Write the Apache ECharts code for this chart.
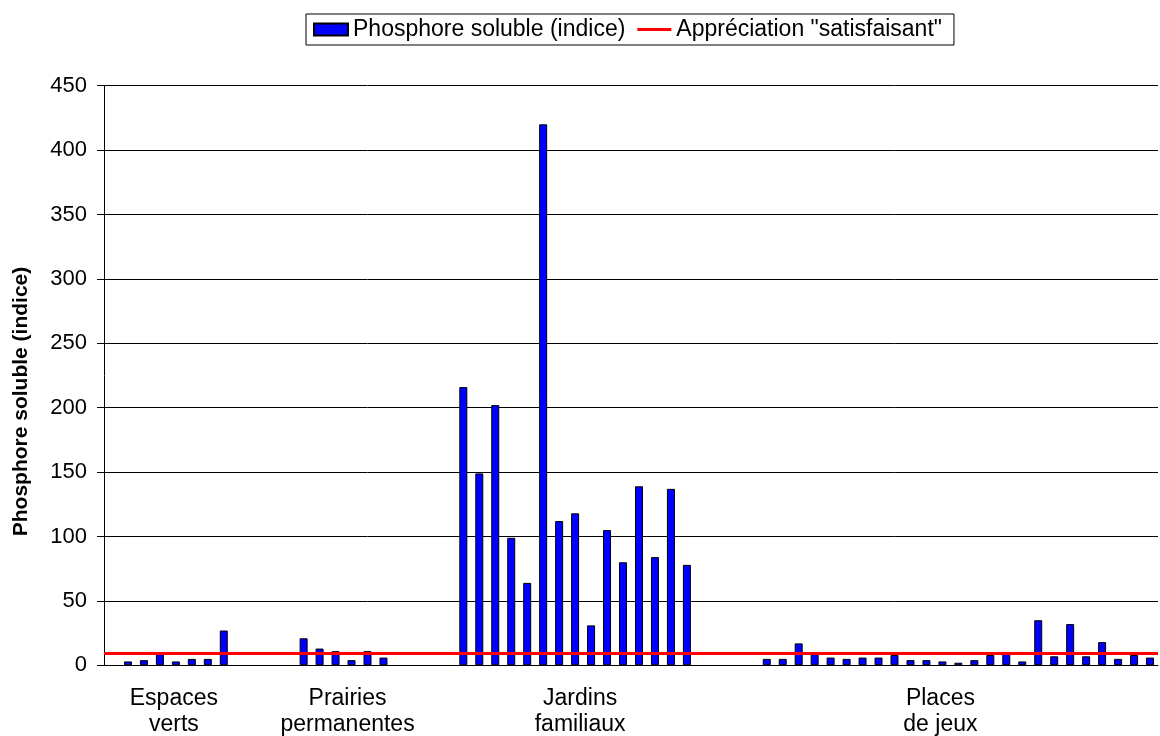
<!DOCTYPE html>
<html>
<head>
<meta charset="utf-8">
<script src="https://cdn.jsdelivr.net/npm/echarts@6/dist/echarts.min.js"></script>
<style>html,body{margin:0;padding:0;background:#fff}#c{width:1160px;height:736px}</style>
</head>
<body>
<div id="c"></div>
<script>
// ---- data ----
const groupLabels = ['Espaces\nverts', 'Prairies\npermanentes', 'Jardins\nfamiliaux', 'Places\nde jeux'];
const espacesVerts = [3, 4, 9, 3, 5, 5, 27];
const prairiesPermanentes = [21, 13, 11, 4, 11, 6];
const jardinsFamiliaux = [216, 149, 202, 99, 64, 420, 112, 118, 31, 105, 80, 139, 84, 137, 78];
const placesDeJeux = [5, 5, 17, 10, 6, 5, 6, 6, 8, 4, 4, 3, 2, 4, 8, 10, 3, 35, 7, 32, 7, 18, 5, 8, 6];
const emptySlotsBefore = [1, 4, 4, 4];      // empty category slots before each group
const labelSlotInGroup = [3, 3, 7, 11];     // which slot of each group carries the label
const labelPadding = [[0, 4, 0, 0], [0, 8, 0, 0], [0, 0, 0, 10], [0, 4, 0, 0]];
const seuilSatisfaisant = 9;
const yTicks = { min: 0, max: 450, interval: 50 };
const seriesNames = ['Phosphore soluble (indice)', 'Appréciation "satisfaisant"'];
const yAxisTitle = 'Phosphore soluble (indice)';

// ---- build category slots ----
const groups = [espacesVerts, prairiesPermanentes, jardinsFamiliaux, placesDeJeux];
const categories = [];
const values = [];
const labelAt = {};
groups.forEach((g, gi) => {
  for (let i = 0; i < emptySlotsBefore[gi]; i++) { categories.push({ value: 'e' + categories.length }); values.push(null); }
  g.forEach((v, i) => {
    const item = { value: 's' + categories.length };
    if (i === labelSlotInGroup[gi]) {
      labelAt[categories.length] = groupLabels[gi];
      item.textStyle = { padding: labelPadding[gi] };
    }
    categories.push(item);
    values.push(v);
  });
});

const FONT = 'Liberation Sans, Arial, sans-serif';
const chart = echarts.init(document.getElementById('c'), null, { renderer: 'canvas' });
chart.setOption({
  animation: false,
  backgroundColor: '#fff',
  textStyle: { fontFamily: FONT, color: '#000' },
  legend: {
    left: 306, top: 14,
    padding: [4, 12, 4, 7],
    itemGap: 12,
    itemWidth: 34, itemHeight: 12,
    borderColor: '#000', borderWidth: 1,
    textStyle: { fontFamily: FONT, fontSize: 23, color: '#000' },
    data: [
      { name: seriesNames[0], icon: 'rect' },
      { name: seriesNames[1], icon: 'path://M0,0h34v3h-34z' }
    ]
  },
  grid: { left: 104, right: 2, top: 85.7, bottom: 70.7, containLabel: false, outerBoundsMode: 'none' },
  xAxis: {
    type: 'category',
    data: categories,
    axisLine: { lineStyle: { color: '#000', width: 1 } },
    axisTick: { show: false },
    axisLabel: {
      interval: 0, margin: 20,
      fontFamily: FONT, fontSize: 23, color: '#000', lineHeight: 26,
      formatter: (v, idx) => labelAt[idx] || ''
    },
    splitLine: { show: false }
  },
  yAxis: {
    type: 'value',
    min: yTicks.min, max: yTicks.max, interval: yTicks.interval,
    name: yAxisTitle, nameLocation: 'middle', nameGap: 72, nameRotate: 90,
    nameTextStyle: { fontFamily: FONT, fontSize: 21, fontWeight: 'bold', color: '#000', padding: [0, 52, 0, 0] },
    axisLine: { show: true, lineStyle: { color: '#000', width: 1 } },
    axisTick: { show: true, inside: false, length: 7, lineStyle: { color: '#000' } },
    axisLabel: { margin: 17, fontFamily: FONT, fontSize: 22, color: '#000' },
    splitLine: { show: true, lineStyle: { color: '#000', width: 1 } }
  },
  series: [
    {
      name: seriesNames[0], type: 'bar', data: values,
      barWidth: 8,
      itemStyle: { color: '#0000FF', borderColor: '#000', borderWidth: 1 }
    },
    {
      name: seriesNames[1], type: 'line', data: [],
      symbol: 'none',
      lineStyle: { color: '#FF0000', width: 3 },
      itemStyle: { color: '#FF0000' },
      markLine: {
        silent: true, symbol: 'none', label: { show: false },
        lineStyle: { color: '#FF0000', width: 3, type: 'solid' },
        data: [{ yAxis: seuilSatisfaisant }]
      }
    }
  ]
});
</script>
</body>
</html>
